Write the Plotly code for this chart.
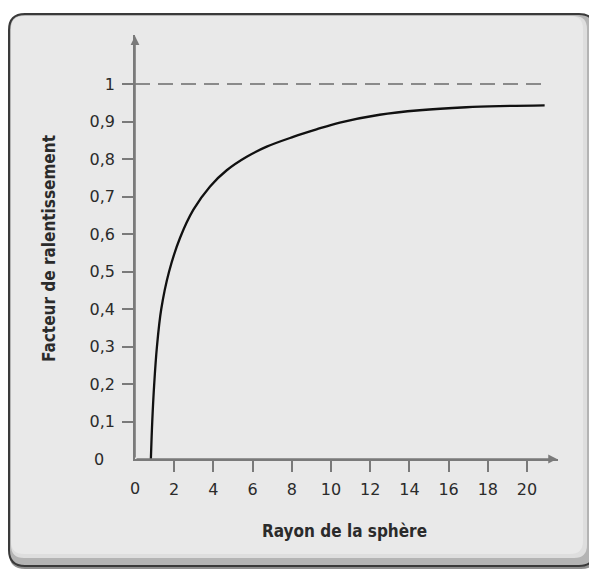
import plotly.graph_objects as go

# ---- data ----
rayon = [0.81, 0.88, 0.98, 1.12, 1.34, 1.74, 2.3, 2.98, 3.83, 4.68, 5.70, 6.72,
         8.07, 9.26, 10.45, 12.48, 14.52, 16.9, 18.6, 20.9]
facteur = [0.00, 0.10, 0.20, 0.30, 0.40, 0.50, 0.59, 0.665, 0.727, 0.770, 0.806, 0.833,
           0.859, 0.879, 0.897, 0.918, 0.930, 0.938, 0.941, 0.943]
limite_x = [0.0, 20.9]
limite_y = [1.0, 1.0]

x_ticks = [2, 4, 6, 8, 10, 12, 14, 16, 18, 20]
x_ticktext = ["2", "4", "6", "8", "10", "12", "14", "16", "18", "20"]
y_ticks = [0.1, 0.2, 0.3, 0.4, 0.5, 0.6, 0.7, 0.8, 0.9, 1.0]
y_ticktext = ["0,1", "0,2", "0,3", "0,4", "0,5", "0,6", "0,7", "0,8", "0,9", "1"]

x_title = "Rayon de la sphère"
y_title = "Facteur de ralentissement"

# ---- geometry (page body has an 8px margin) ----
OFF = 8
W, H = 597 - OFF, 569 - OFF
ML, MT, MB = 135 - OFF, 35 - OFF, 110
PH = H - MT - MB
PW = 423
MR = W - ML - PW
X_PX = 19.6   # px per x unit
Y_PX = 375.0  # px per y unit
x_max = PW / X_PX
y_max = PH / Y_PX


def px(xp):
    # window pixel x -> paper
    return (xp - OFF - ML) / PW


def py(yp):
    # window pixel y -> paper
    return (H - MB - (yp - OFF)) / PH


def rounded_box(x0, y0, x1, y1, r):
    X0, X1 = px(x0), px(x1)
    Y0, Y1 = py(y0), py(y1)
    rx, ry = r / PW, r / PH
    return (f"M {X0+rx},{Y0} L {X1-rx},{Y0} Q {X1},{Y0} {X1},{Y0-ry} "
            f"L {X1},{Y1+ry} Q {X1},{Y1} {X1-rx},{Y1} "
            f"L {X0+rx},{Y1} Q {X0},{Y1} {X0},{Y1+ry} "
            f"L {X0},{Y0-ry} Q {X0},{Y0} {X0+rx},{Y0} Z")


AX = "#7a7a7a"
TXT = "#2b2b2b"
FONT = "DejaVu Sans"

fig = go.Figure()

fig.add_trace(go.Scatter(
    x=limite_x, y=limite_y, mode="lines",
    line=dict(color="#8a8a8a", width=2, dash="15px,8px"),
    hoverinfo="skip", showlegend=False))

fig.add_trace(go.Scatter(
    x=rayon, y=facteur, mode="lines",
    line=dict(color="#111111", width=2.3, shape="spline", smoothing=1.0),
    showlegend=False))

shapes = [
    # outer rounded panel with shadow
    dict(type="path", xref="paper", yref="paper", layer="below",
         path=rounded_box(9, 15, 597, 569, 16),
         fillcolor="#8f8f8f", line=dict(width=0)),
    dict(type="path", xref="paper", yref="paper", layer="below",
         path=rounded_box(9, 14, 595, 566, 16),
         fillcolor="#b4b4b4", line=dict(color="#3a3a3a", width=2)),
    dict(type="path", xref="paper", yref="paper", layer="below",
         path=rounded_box(11, 16, 587, 558, 13),
         fillcolor="#dedede", line=dict(width=0)),
    dict(type="path", xref="paper", yref="paper", layer="below",
         path=rounded_box(11, 16, 583, 554, 13),
         fillcolor="#e9e9e9", line=dict(width=0)),
]

annotations = [
    # axis arrows
    dict(x=x_max - 0.05, y=0, ax=0, ay=0, xref="x", yref="y", axref="x", ayref="y",
         showarrow=True, arrowhead=2, arrowsize=1.1, arrowwidth=1.6, arrowcolor=AX, text=""),
    dict(x=0, y=y_max - 0.003, ax=0, ay=0, xref="x", yref="y", axref="x", ayref="y",
         showarrow=True, arrowhead=2, arrowsize=1.1, arrowwidth=1.6, arrowcolor=AX, text=""),
    # origin labels
    dict(x=px(99), y=py(459), xref="paper", yref="paper", text="0", showarrow=False,
         font=dict(family=FONT, size=16, color=TXT), xanchor="center", yanchor="middle"),
    dict(x=px(135), y=py(488), xref="paper", yref="paper", text="0", showarrow=False,
         font=dict(family=FONT, size=16, color=TXT), xanchor="center", yanchor="middle"),
    # titles
    dict(x=px(344.5), y=py(531), xref="paper", yref="paper", text=x_title, showarrow=False,
         font=dict(family="DejaVu Sans Condensed", size=17, color=TXT, weight="bold"),
         xanchor="center", yanchor="middle"),
    dict(x=px(49), y=py(249), xref="paper", yref="paper", text=y_title, showarrow=False,
         textangle=-90,
         font=dict(family="DejaVu Sans Condensed", size=17, color=TXT, weight="bold"),
         xanchor="center", yanchor="middle"),
]

fig.update_layout(
    width=W, height=H,
    margin=dict(l=ML, r=MR, t=MT, b=MB, pad=0),
    paper_bgcolor="white", plot_bgcolor="rgba(0,0,0,0)",
    shapes=shapes, annotations=annotations,
    xaxis=dict(range=[0, x_max], tickmode="array", tickvals=x_ticks, ticktext=x_ticktext,
               showgrid=False, zeroline=False, showline=True, linecolor=AX, linewidth=1.6,
               ticks="outside", ticklen=11, tickwidth=1.6, tickcolor=AX,
               tickfont=dict(family=FONT, size=16, color=TXT), ticklabelstandoff=4,
               fixedrange=True),
    yaxis=dict(range=[0, y_max], tickmode="array", tickvals=y_ticks, ticktext=y_ticktext,
               showgrid=False, zeroline=False, showline=True, linecolor=AX, linewidth=1.6,
               ticks="outside", ticklen=11, tickwidth=1.6, tickcolor=AX,
               tickfont=dict(family=FONT, size=16, color=TXT), ticklabelstandoff=4,
               fixedrange=True),
    showlegend=False,
)

fig.write_html("out.html")
